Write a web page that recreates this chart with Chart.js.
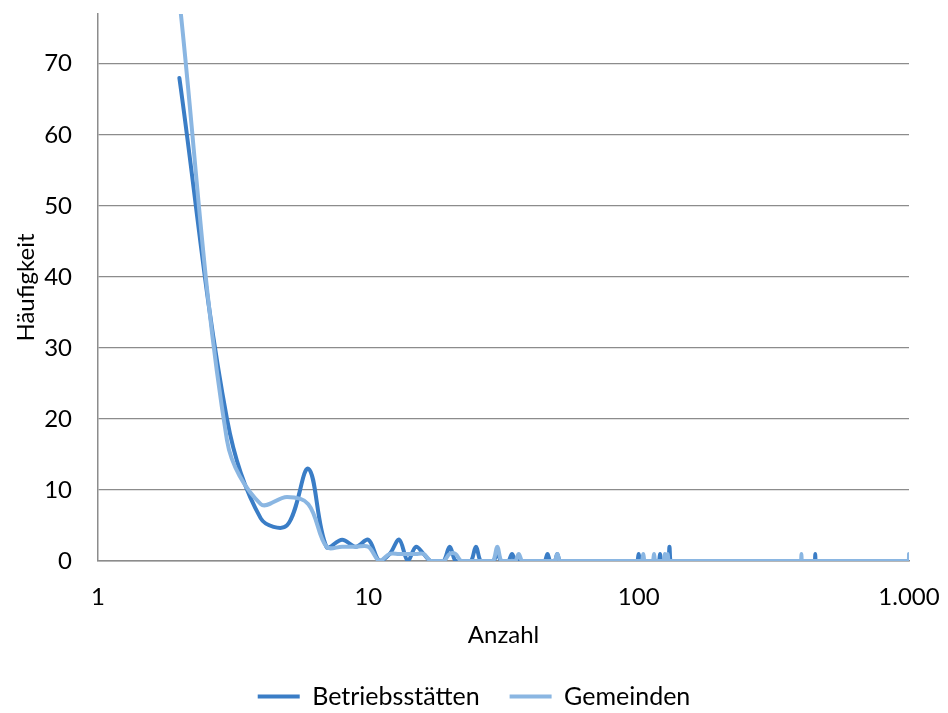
<!DOCTYPE html>
<html>
<head>
<meta charset="utf-8">
<script src="https://cdn.jsdelivr.net/npm/chart.js@4"></script>
<style>
  html, body { margin: 0; padding: 0; background: #ffffff; }
  #wrap { width: 948px; height: 713px; position: relative; }
</style>
</head>
<body>
<div id="wrap"><canvas id="c" width="948" height="713"></canvas></div>
<script>
// ---- data ----
const seriesNames = ['Betriebsstätten', 'Gemeinden'];
// Betriebsstätten: Anzahl (x) with non-zero Häufigkeit (y)
const anzahlBetrieb = [2, 3, 4, 5, 6, 7, 8, 9, 10, 12, 13, 15, 16, 20, 25, 30, 34, 46, 50, 100, 120, 130, 450];
const haeufBetrieb  = [68, 20, 6, 5, 13, 2, 3, 2, 3, 1, 3, 2, 1, 2, 2, 1, 1, 1, 1, 1, 1, 2, 1];
// Gemeinden
const anzahlGemeinden = [2, 3, 4, 5, 6, 7, 8, 9, 10, 12, 13, 14, 15, 16, 20, 21, 30, 36, 50, 104, 114, 125, 128, 400, 1000];
const haeufGemeinden  = [79, 17, 8, 9, 8, 2, 2, 2, 2, 1, 1, 1, 1, 1, 1, 1, 2, 1, 1, 1, 1, 1, 1, 1, 1];
// every whole Anzahl from first to last is a category; missing ones have Häufigkeit 0
const anzahlFirst = 2, anzahlLast = 1000;
const xTickValues = [1, 10, 100, 1000];
const xTickLabels = ['1', '10', '100', '1.000'];
const yTickValues = [0, 10, 20, 30, 40, 50, 60, 70];
const yMax = 77;

function buildSeries(xs, ys) {
  const map = new Map();
  xs.forEach((x, i) => map.set(x, ys[i]));
  const out = [];
  for (let x = anzahlFirst; x <= anzahlLast; x++) out.push({ x: x, y: map.has(x) ? map.get(x) : 0 });
  return out;
}

const FONT = 'Lato, "Open Sans", sans-serif';
const FS = 24;
const LFS = 25;
const dark = '#3A7DC6';
const light = '#8AB6E2';
const gridColor = '#8c8c8c';

new Chart(document.getElementById('c'), {
  type: 'line',
  data: {
    datasets: [
      { label: seriesNames[0], data: buildSeries(anzahlBetrieb, haeufBetrieb), borderColor: dark, backgroundColor: dark,
        borderWidth: 4, pointRadius: 0, tension: 0.35, fill: false, order: 1, borderCapStyle: 'round', borderJoinStyle: 'round' },
      { label: seriesNames[1], data: buildSeries(anzahlGemeinden, haeufGemeinden), borderColor: light, backgroundColor: light,
        borderWidth: 4, pointRadius: 0, tension: 0.35, fill: false, order: 0, borderCapStyle: 'round', borderJoinStyle: 'round' }
    ]
  },
  options: {
    responsive: false,
    animation: false,
    layout: { padding: { left: 0, right: 0, top: 14, bottom: -6 } },
    plugins: {
      tooltip: { enabled: false },
      legend: {
        position: 'bottom',
        labels: {
          font: { family: FONT, size: LFS },
          color: '#000',
          usePointStyle: true,
          pointStyle: 'line',
          pointStyleWidth: 42,
          boxHeight: LFS,
          padding: 30,
          sort: (a, b) => a.datasetIndex - b.datasetIndex
        }
      }
    },
    scales: {
      x: {
        type: 'logarithmic',
        min: 1, max: 1000,
        afterBuildTicks: (s) => { s.ticks = xTickValues.map(v => ({ value: v })); },
        afterFit: (s) => { s.height = 93; s.paddingLeft = 0; s.paddingRight = 0; },
        ticks: {
          font: { family: FONT, size: FS }, color: '#000', padding: 22, maxRotation: 0,
          autoSkip: false,
          callback: (v) => { const i = xTickValues.indexOf(v); return i >= 0 ? xTickLabels[i] : ''; }
        },
        grid: { display: false, drawTicks: false },
        border: { display: true, color: gridColor, width: 1.5 },
        title: { display: true, text: 'Anzahl', font: { family: FONT, size: FS }, color: '#000', padding: { top: 0, bottom: 4 } }
      },
      y: {
        type: 'linear',
        min: 0, max: yMax,
        afterBuildTicks: (s) => { s.ticks = yTickValues.map(v => ({ value: v })); },
        afterFit: (s) => { s.width = 98; s.paddingTop = 0; s.paddingBottom = 0; },
        ticks: { font: { family: FONT, size: FS }, color: '#000', padding: 26 },
        grid: { color: gridColor, lineWidth: 1.2, drawTicks: false },
        border: { display: true, color: gridColor, width: 1.5 },
        title: { display: true, text: 'Häufigkeit', font: { family: FONT, size: FS }, color: '#000', padding: { top: 12, bottom: 0 } }
      },
      yRightSpace: {
        type: 'linear',
        position: 'right',
        min: 0, max: yMax,
        afterFit: (s) => { s.width = 39; s.paddingTop = 0; s.paddingBottom = 0; },
        ticks: { display: false },
        grid: { display: false, drawTicks: false },
        border: { display: false }
      }
    }
  }
});
</script>
</body>
</html>
